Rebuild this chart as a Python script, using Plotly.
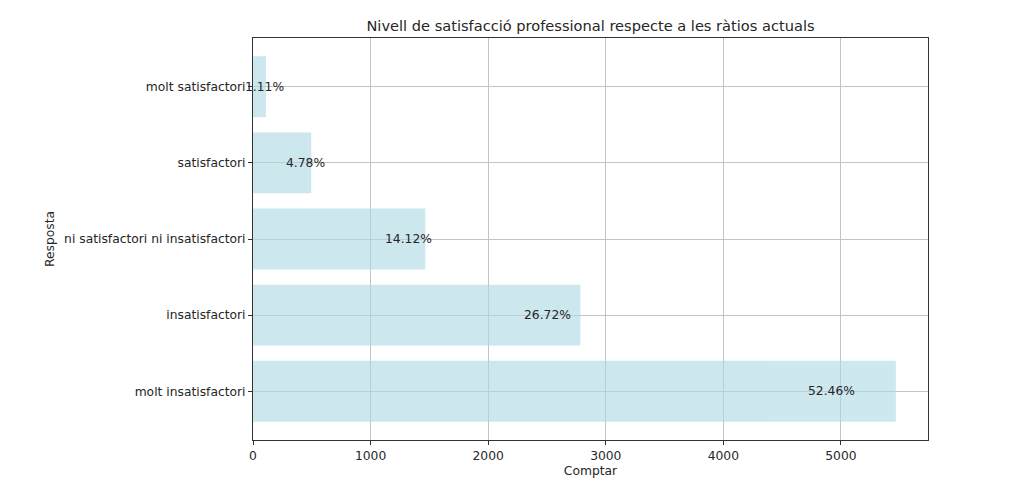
import plotly.graph_objects as go

categories = ["molt insatisfactori", "insatisfactori", "ni satisfactori ni insatisfactori",
              "satisfactori", "molt satisfactori"]
counts = [5467, 2784, 1465, 495, 110]
pct_labels = ["52.46%", "26.72%", "14.12%", "4.78%", "1.11%"]
x_ticks = [0, 1000, 2000, 3000, 4000, 5000]

FONT = "DejaVu Sans"
TXT = "#262626"
FS = 12.3
W, H = 1008, 484

fig = go.Figure()
fig.add_trace(go.Bar(
    x=counts, y=categories, orientation="h", width=0.8,
    marker=dict(color="lightblue", line=dict(width=0)), opacity=0.6,
    showlegend=False, hoverinfo="x+y",
))

for c, cat, lab in zip(counts, categories, pct_labels):
    fig.add_annotation(x=c * 0.9, y=cat, text=lab, showarrow=False,
                       xanchor="center", yanchor="middle",
                       font=dict(family=FONT, size=FS, color=TXT))

fig.update_layout(
    width=W, height=H,
    margin=dict(l=245, r=88, t=30, b=52, autoexpand=False),
    plot_bgcolor="white", paper_bgcolor="white",
    font=dict(family=FONT, size=FS, color=TXT),
    title=dict(text="Nivell de satisfacció professional respecte a les ràtios actuals",
               x=(245 + (W - 88)) / 2 / W, xanchor="center", y=1 - 18 / H, yanchor="middle",
               font=dict(family=FONT, size=14.6, color=TXT)),
    bargap=0.2,
)
fig.update_xaxes(
    range=[0, max(counts) * 1.05], tickvals=x_ticks, automargin=False,
    showgrid=True, gridcolor="#c4c4c4", gridwidth=1,
    showline=True, linecolor="#333333", linewidth=1, mirror=True,
    ticks="outside", ticklen=4, tickcolor="#333333",
    zeroline=False,
    title=dict(text="Comptar", font=dict(family=FONT, size=FS, color=TXT), standoff=4),
)
fig.update_yaxes(
    type="category", categoryorder="array", categoryarray=categories,
    range=[-0.64, 4.64], automargin=False,
    showgrid=True, gridcolor="#c4c4c4", gridwidth=1,
    showline=True, linecolor="#333333", linewidth=1, mirror=True,
    ticks="outside", ticklen=4, tickcolor="#333333",
    title=dict(text="Resposta", font=dict(family=FONT, size=FS, color=TXT), standoff=6),
)

fig.write_html("out.html")
